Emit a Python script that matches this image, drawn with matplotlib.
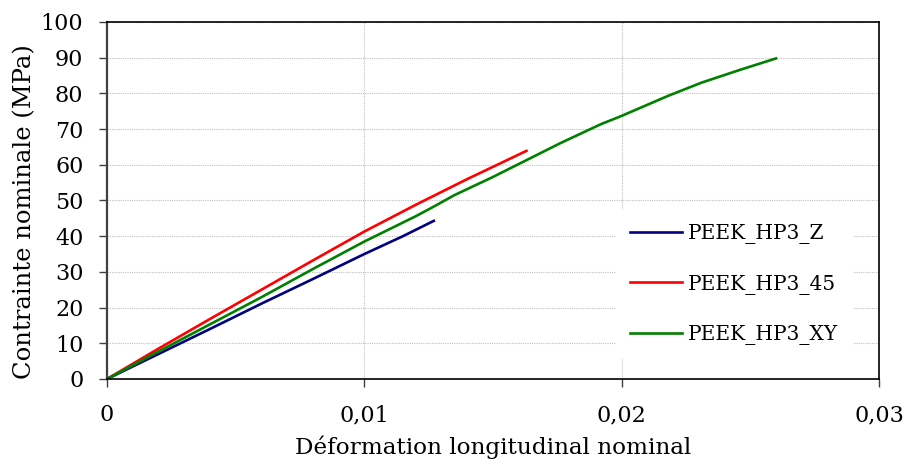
import matplotlib
matplotlib.use("Agg")
import matplotlib.pyplot as plt
from matplotlib.ticker import FuncFormatter

# essais de traction PEEK HP3 (deformation, contrainte en MPa)
eps_z = [0, 0.002, 0.004, 0.006, 0.008, 0.010, 0.0115, 0.0127]
sig_z = [0, 7.0, 14.0, 21.1, 28.0, 35.0, 40.0, 44.3]

eps_45 = [0, 0.002, 0.004, 0.006, 0.008, 0.010, 0.012, 0.014, 0.0163]
sig_45 = [0, 8.5, 16.8, 25.0, 33.2, 41.3, 48.8, 56.0, 63.9]

eps_xy = [0, 0.002, 0.004, 0.006, 0.008, 0.010, 0.012, 0.0127, 0.0135,
          0.015, 0.0163, 0.0176, 0.0192, 0.020, 0.0218, 0.0231, 0.0246, 0.0260]
sig_xy = [0, 7.7, 15.3, 22.9, 30.8, 38.5, 45.6, 48.3, 51.5,
          56.6, 61.3, 66.0, 71.4, 73.7, 79.3, 83.0, 86.6, 89.8]

labels = ["PEEK_HP3_Z", "PEEK_HP3_45", "PEEK_HP3_XY"]
colors = ["#000080", "#FF0000", "#008000"]

plt.rcParams['font.family'] = ['DejaVu Serif']
fs = 16

fig = plt.figure(figsize=(9.06, 4.68), dpi=100)
ax = fig.add_axes([0.1181, 0.1902, 0.8521, 0.7628])

for x, y, lab, c in zip([eps_z, eps_45, eps_xy], [sig_z, sig_45, sig_xy], labels, colors):
    ax.plot(x, y, color=c, lw=1.9, label=lab)

ax.set_xlim(0, 0.03)
ax.set_ylim(0, 100)
ax.set_xticks([0, 0.01, 0.02, 0.03])
ax.set_yticks(range(0, 101, 10))
ax.xaxis.set_major_formatter(FuncFormatter(lambda v, p: "0" if v == 0 else ("%.2f" % v).replace(".", ",")))
ax.tick_params(labelsize=fs, direction="out", length=6, width=1, color="#404040")
ax.tick_params(axis="x", pad=12)
ax.tick_params(axis="y", pad=11)
ax.grid(True, color="#c0c0c0", linestyle=(0, (1, 1)), linewidth=0.8)
ax.set_axisbelow(True)
for s in ax.spines.values():
    s.set_color("black")
    s.set_linewidth(1.2)
ax.spines["left"].set_color("#404040")
ax.spines["left"].set_linewidth(1.6)

ax.set_xlabel("Déformation longitudinal nominal", fontsize=16.7, labelpad=7)
ax.set_ylabel("Contrainte nominale (MPa)", fontsize=17.5)
ax.yaxis.set_label_coords(-0.092, 0.47)

leg = ax.legend(loc="upper left", bbox_to_anchor=(0.646, 0.501), fontsize=14.5,
                frameon=True, facecolor="white", edgecolor="none", framealpha=1,
                fancybox=False, handlelength=2.6, handletextpad=0.3,
                labelspacing=1.5, borderpad=0.7)
leg.set_zorder(2)

fig.savefig("out.png", dpi=100, facecolor="white")
